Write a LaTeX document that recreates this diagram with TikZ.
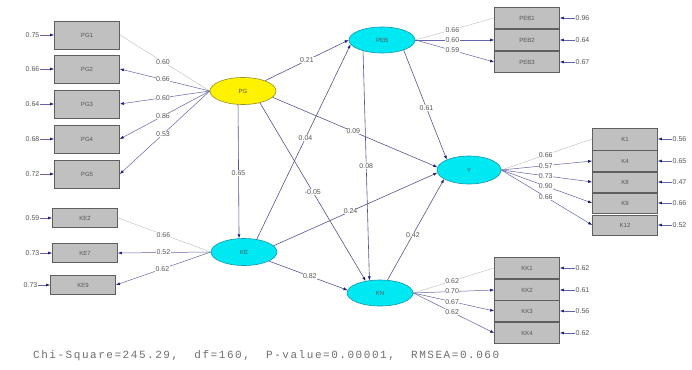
\documentclass[tikz,border=0pt]{standalone}
\usepackage{fontspec}
\setmainfont{Liberation Sans}
\newfontfamily\monof[LetterSpace=14]{Liberation Mono}
\usetikzlibrary{arrows.meta,shapes.geometric}
\definecolor{boxfill}{RGB}{192,192,192}
\definecolor{boxline}{RGB}{95,95,95}
\definecolor{pathc}{RGB}{100,100,170}
\definecolor{headc}{RGB}{25,25,115}
\definecolor{txtc}{RGB}{85,85,85}
\definecolor{fitc}{RGB}{110,110,110}
\definecolor{cyanf}{RGB}{0,232,242}
\definecolor{cyanl}{RGB}{20,150,175}
\definecolor{yellf}{RGB}{255,242,0}
\definecolor{yelll}{RGB}{150,140,40}
\definecolor{fixc}{RGB}{200,200,200}
\begin{document}
\begin{tikzpicture}[x=1pt,y=-1pt,
  obs/.style={draw=boxline,fill=boxfill,line width=0.8pt,minimum width=65pt,minimum height=#1,inner sep=0pt,font=\fontsize{6}{7}\selectfont,text=txtc},
  obs/.default=20pt,
  latc/.style={ellipse,draw=cyanl,fill=cyanf,line width=0.6pt,minimum width=66pt,minimum height=27pt,inner sep=0pt,font=\fontsize{6}{7}\selectfont,text=txtc},
  laty/.style={latc,draw=yelll,fill=yellf},
  lab/.style={font=\fontsize{7}{8}\selectfont,text=txtc,fill=white,inner sep=0.4pt},
  errlab/.style={font=\fontsize{7}{8}\selectfont,text=txtc,inner sep=0.5pt},
  tip/.style={-{Latex[length=4pt,width=3pt,color=headc]}},
  load/.style={draw=pathc,line width=0.5pt,tip},
  fixd/.style={draw=fixc,line width=0.5pt},
  struct/.style={draw=pathc!85!black,line width=0.6pt,tip},
  errarr/.style={draw=pathc,line width=0.6pt,tip}]
\useasboundingbox[fill=white] (0,0) rectangle (692,369);

% latent variables
\node[laty] (PG) at (243,91) {PG};
\node[latc] (KE) at (244,252) {KE};
\node[latc,minimum height=26pt] (PEB) at (382,40) {PEB};
\node[latc,minimum width=64pt,minimum height=28pt] (Y) at (469,170) {Y};
\node[latc,minimum height=26pt] (KN) at (380,293) {KN};

% left observed (PG)
\node[obs=28pt] (PG1) at (87,35) {PG1};
\node[obs=28pt] (PG2) at (87,69) {PG2};
\node[obs=28pt] (PG3) at (87,104) {PG3};
\node[obs=28pt] (PG4) at (87,139) {PG4};
\node[obs=28pt] (PG5) at (87,174) {PG5};
% left observed (KE)
\node[obs=19pt] (KE2) at (85,218) {KE2};
\node[obs=19pt] (KE7) at (85,253) {KE7};
\node[obs=19pt] (KE9) at (83,285) {KE9};
% PEB observed
\node[obs=21pt] (PEB1) at (527,18) {PEB1};
\node[obs=21pt] (PEB2) at (527,40) {PEB2};
\node[obs=21pt] (PEB3) at (527,62) {PEB3};
% Y observed
\node[obs=22pt] (K1) at (625,139) {K1};
\node[obs=21pt] (K4) at (625,161) {K4};
\node[obs=20pt] (K8) at (625,182) {K8};
\node[obs=20pt] (K9) at (625,203) {K9};
\node[obs=20pt] (K12) at (625,225) {K12};
% KN observed
\node[obs=21pt] (KK1) at (527,268) {KK1};
\node[obs=21pt] (KK2) at (527,290) {KK2};
\node[obs=21pt] (KK3) at (527,311) {KK3};
\node[obs=21pt] (KK4) at (527,333) {KK4};

% error terms left
\foreach \b/\v/\y in {PG1/0.75/35,PG2/0.66/69,PG3/0.64/104,PG4/0.68/139,PG5/0.72/174,KE2/0.59/218,KE7/0.73/253}{
  \node[errlab,anchor=east] (e\b) at (40,\y) {\v};
  \draw[errarr] (e\b.east) -- (\b.west);
}
\node[errlab,anchor=east] (eKE9) at (38,285) {0.73};
\draw[errarr] (eKE9.east) -- (KE9.west);
% error terms right
\foreach \b/\v/\y in {PEB1/0.96/18,PEB2/0.64/40,PEB3/0.67/62,KK1/0.62/268,KK2/0.61/290,KK3/0.56/311,KK4/0.62/333}{
  \node[errlab,anchor=west] (e\b) at (575,\y) {\v};
  \draw[errarr] (e\b.west) -- (\b.east);
}
\foreach \b/\v/\y in {K1/0.56/139,K4/0.65/161,K8/0.47/182,K9/0.66/203,K12/0.52/225}{
  \node[errlab,anchor=west] (e\b) at (672,\y) {\v};
  \draw[errarr] (e\b.west) -- (\b.east);
}

% loadings PG
\draw[fixd] (PG.west) -- node[lab,pos=0.52] {0.60} (PG1.east);
\draw[load] (PG.west) -- node[lab,pos=0.52] {0.66} (PG2.east);
\draw[load] (PG.west) -- node[lab,pos=0.52] {0.60} (PG3.east);
\draw[load] (PG.west) -- node[lab,pos=0.52] {0.86} (PG4.east);
\draw[load] (PG.west) -- node[lab,pos=0.52] {0.53} (PG5.east);
% loadings KE
\draw[fixd] (KE.west) -- node[lab,pos=0.51] {0.66} (KE2.east);
\draw[load] (KE.west) -- node[lab,pos=0.51] {0.52} (KE7.east);
\draw[load] (KE.west) -- node[lab,pos=0.51] {0.62} (KE9.east);
% loadings PEB
\draw[fixd] (PEB.east) -- node[lab,pos=0.47] {0.66} (PEB1.west);
\draw[load] (PEB.east) -- node[lab,pos=0.47] {0.60} (PEB2.west);
\draw[load] (PEB.east) -- node[lab,pos=0.47] {0.59} (PEB3.west);
% loadings Y
\draw[fixd] (Y.east) -- node[lab,pos=0.49] {0.66} (K1.west);
\draw[load] (Y.east) -- node[lab,pos=0.49] {0.57} (K4.west);
\draw[load] (Y.east) -- node[lab,pos=0.49] {0.73} (K8.west);
\draw[load] (Y.east) -- node[lab,pos=0.49] {0.90} (K9.west);
\draw[load] (Y.east) -- node[lab,pos=0.49] {0.66} (K12.west);
% loadings KN
\draw[fixd] (KN.east) -- node[lab,pos=0.48] {0.62} (KK1.west);
\draw[load] (KN.east) -- node[lab,pos=0.48] {0.70} (KK2.west);
\draw[load] (KN.east) -- node[lab,pos=0.48] {0.67} (KK3.west);
\draw[load] (KN.east) -- node[lab,pos=0.48] {0.62} (KK4.west);

% structural paths
\draw[struct] (PG.-110) -- node[lab,pos=0.51] {0.65} (KE.110);
\draw[struct] (PG.25) -- node[lab,pos=0.5] {0.21} (PEB.west);
\draw[struct] (PG.-12) -- node[lab,pos=0.49] {0.09} (Y.175);
\draw[struct] (PG.-35) -- node[lab,pos=0.5] {-0.05} (KN.140);
\draw[struct] (KE.45) -- node[lab,pos=0.52] {0.04} (PEB.-172);
\draw[struct] (PEB.-150) -- node[lab,pos=0.5] {0.08} (KN.130);
\draw[struct] (PEB.-25) -- node[lab,pos=0.53] {0.61} (Y.155);
\draw[struct] (KE.12) -- node[lab,pos=0.47] {0.24} (Y.-175);
\draw[struct] (KE.-20) -- node[lab,pos=0.52] {0.82} (KN.175);
\draw[struct] (KN.60) -- node[lab,pos=0.45] {0.42} (Y.-160);

% fit statistics
\node[anchor=west,font=\monof\fontsize{11}{13}\selectfont,text=fitc,inner sep=0pt] (fit) at (33,356) {Chi-Square=245.29,\ \ df=160,\ \ P-value=0.00001,\ \ RMSEA=0.060};
\end{tikzpicture}
\end{document}
